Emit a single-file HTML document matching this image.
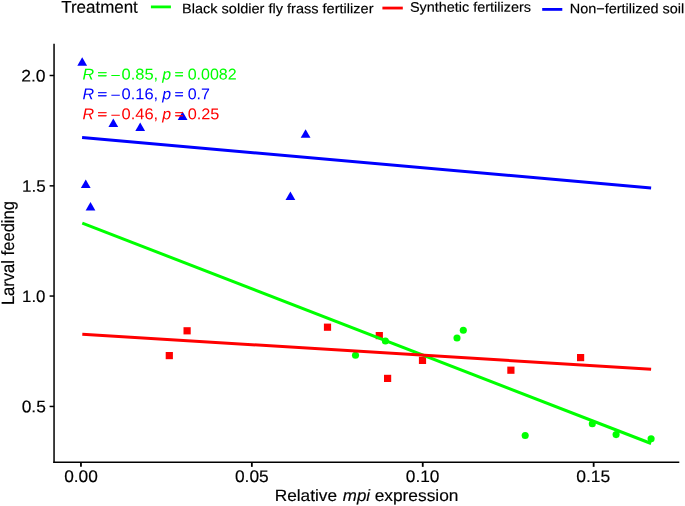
<!DOCTYPE html>
<html><head><meta charset="utf-8"><title>Larval feeding vs relative mpi expression</title>
<style>
html,body{margin:0;padding:0;background:#fff;}
svg{display:block;}
text{font-family:"Liberation Sans",sans-serif;fill:#000;stroke:#000;stroke-width:0.16px;text-rendering:geometricPrecision;}
</style></head>
<body>
<svg width="685" height="506" viewBox="0 0 685 506">
<rect width="685" height="506" fill="#fff"/>
<line x1="150.9" y1="6.9" x2="170.9" y2="6.9" stroke="#00ff00" stroke-width="2.8"/>
<line x1="382.4" y1="8.05" x2="402.8" y2="8.05" stroke="#ff0000" stroke-width="2.8"/>
<line x1="542.2" y1="9.4" x2="562.3" y2="9.4" stroke="#0000ff" stroke-width="2.8"/>
<g stroke="#000" stroke-width="1.5" fill="none">
<line x1="54.05" y1="43.8" x2="54.05" y2="463.1"/>
<line x1="53.3" y1="462.35" x2="679.3" y2="462.35"/>
<line x1="49.6" y1="75.5" x2="54.05" y2="75.5"/>
<line x1="49.6" y1="185.85" x2="54.05" y2="185.85"/>
<line x1="49.6" y1="296.05" x2="54.05" y2="296.05"/>
<line x1="49.6" y1="406.45" x2="54.05" y2="406.45"/>
<line x1="80.95" y1="462.35" x2="80.95" y2="466.85" stroke-width="1.8"/>
<line x1="251.85" y1="462.35" x2="251.85" y2="466.85" stroke-width="1.8"/>
<line x1="422.75" y1="462.35" x2="422.75" y2="466.85" stroke-width="1.8"/>
<line x1="593.65" y1="462.35" x2="593.65" y2="466.85" stroke-width="1.8"/>
</g>
<g fill="#0000ff">
<polygon points="82.20,57.30 87.09,65.78 77.31,65.78"/>
<polygon points="113.30,118.50 118.19,126.98 108.41,126.98"/>
<polygon points="140.20,122.60 145.09,131.07 135.31,131.07"/>
<polygon points="182.60,111.60 187.49,120.08 177.71,120.08"/>
<polygon points="85.75,179.50 90.64,187.97 80.86,187.97"/>
<polygon points="90.50,201.90 95.39,210.38 85.61,210.38"/>
<polygon points="305.60,129.30 310.49,137.77 300.71,137.77"/>
<polygon points="290.40,191.60 295.29,200.07 285.51,200.07"/>
</g>
<g fill="#00ff00">
<circle cx="355.5" cy="355.3" r="3.55"/>
<circle cx="385.4" cy="341" r="3.55"/>
<circle cx="457" cy="338" r="3.55"/>
<circle cx="463.3" cy="330.2" r="3.55"/>
<circle cx="525.2" cy="435.5" r="3.55"/>
<circle cx="592.3" cy="423.7" r="3.55"/>
<circle cx="616.1" cy="434.6" r="3.55"/>
<circle cx="651.1" cy="438.75" r="3.55"/>
</g>
<g fill="#ff0000">
<rect x="165.70" y="352.00" width="7.2" height="7.2"/>
<rect x="183.50" y="327.20" width="7.2" height="7.2"/>
<rect x="323.90" y="323.60" width="7.2" height="7.2"/>
<rect x="375.70" y="332.00" width="7.2" height="7.2"/>
<rect x="384.00" y="374.80" width="7.2" height="7.2"/>
<rect x="418.90" y="356.80" width="7.2" height="7.2"/>
<rect x="507.30" y="366.60" width="7.2" height="7.2"/>
<rect x="577.00" y="354.00" width="7.2" height="7.2"/>
</g>
<line x1="82.3" y1="223.1" x2="651.1" y2="443.5" stroke="#00ff00" stroke-width="3.0"/>
<line x1="82.3" y1="334.3" x2="651.1" y2="369.3" stroke="#ff0000" stroke-width="3.0"/>
<line x1="82.1" y1="137.45" x2="651.1" y2="188.0" stroke="#0000ff" stroke-width="3.0"/>
<text transform="translate(61.25,12.80) rotate(0.03) scale(0.9909,1.0)" font-size="17.1">Treatment</text>
<text transform="translate(181.95,13.20) rotate(0.03) scale(1.0541,1.0)" font-size="13.8">Black soldier fly frass fertilizer</text>
<text transform="translate(409.88,11.65) rotate(0.03) scale(1.0455,1.0)" font-size="13.8">Synthetic fertilizers</text>
<text transform="translate(569.75,13.25) rotate(0.03) scale(1.0474,1.0)" font-size="13.8">Non−fertilized soil</text>
<text transform="translate(21.21,81.40) rotate(0.03) scale(1.0514,1.0)" font-size="16.7">2.0</text>
<text transform="translate(22.05,191.65) rotate(0.03) scale(1.0233,1.0)" font-size="16.7">1.5</text>
<text transform="translate(22.06,301.90) rotate(0.03) scale(1.0093,1.0)" font-size="16.7">1.0</text>
<text transform="translate(21.68,412.15) rotate(0.03) scale(1.0395,1.0)" font-size="16.7">0.5</text>
<text transform="translate(64.18,482.05) rotate(0.03) scale(1.0349,1.0)" font-size="16.7">0.00</text>
<text transform="translate(234.98,482.05) rotate(0.03) scale(1.0390,1.0)" font-size="16.7">0.05</text>
<text transform="translate(405.78,482.05) rotate(0.03) scale(1.0349,1.0)" font-size="16.7">0.10</text>
<text transform="translate(576.28,482.05) rotate(0.03) scale(1.0486,1.0)" font-size="16.7">0.15</text>
<text transform="translate(274.68,501.05) rotate(0.03) scale(1.0527,1.0)" font-size="16.4">Relative</text>
<text transform="translate(342.87,501.05) rotate(0.03) scale(1.0280,1.0)" font-size="16.4" font-style="italic">mpi</text>
<text transform="translate(374.64,501.05) rotate(0.03) scale(1.0572,1.0)" font-size="16.4">expression</text>
<text transform="translate(13.85,305.11) rotate(-90) scale(0.9693,1.04)" font-size="17.1">Larval feeding</text>
<text transform="translate(82.48,79.40) rotate(0.03) scale(1.0313,1.0)" font-size="15.6" font-style="italic" style="fill:#00ff00;stroke:none;stroke-width:0.0px">R</text>
<text transform="translate(97.58,78.37) rotate(0.03) scale(1.0462,0.8)" font-size="15.6" style="fill:#00ff00;stroke:#00ff00;stroke-width:0.45px">=</text>
<text transform="translate(110.46,80.13) rotate(0.03) scale(1.1148,0.9)" font-size="15.6" style="fill:#00ff00;stroke:none;stroke-width:0.0px">−</text><text transform="translate(121.54,79.40) rotate(0.03) scale(1.0565,1.0)" font-size="15.6" style="fill:#00ff00;stroke:none;stroke-width:0.0px">0.85,</text>
<text transform="translate(162.18,79.40) rotate(0.03) scale(1.0203,1.0)" font-size="15.6" font-style="italic" style="fill:#00ff00;stroke:none;stroke-width:0.0px">p</text>
<text transform="translate(174.82,78.37) rotate(0.03) scale(0.9662,0.8)" font-size="15.6" style="fill:#00ff00;stroke:#00ff00;stroke-width:0.45px">=</text>
<text transform="translate(187.66,79.40) rotate(0.03) scale(1.0264,1.0)" font-size="15.6" style="fill:#00ff00;stroke:none;stroke-width:0.0px">0.0082</text>
<text transform="translate(82.48,99.30) rotate(0.03) scale(1.0313,1.0)" font-size="15.6" font-style="italic" style="fill:#0000ff;stroke:none;stroke-width:0.0px">R</text>
<text transform="translate(97.58,98.27) rotate(0.03) scale(1.0462,0.8)" font-size="15.6" style="fill:#0000ff;stroke:#0000ff;stroke-width:0.45px">=</text>
<text transform="translate(110.46,100.03) rotate(0.03) scale(1.1148,0.9)" font-size="15.6" style="fill:#0000ff;stroke:none;stroke-width:0.0px">−</text><text transform="translate(121.54,99.30) rotate(0.03) scale(1.0565,1.0)" font-size="15.6" style="fill:#0000ff;stroke:none;stroke-width:0.0px">0.16,</text>
<text transform="translate(162.18,99.30) rotate(0.03) scale(1.0203,1.0)" font-size="15.6" font-style="italic" style="fill:#0000ff;stroke:none;stroke-width:0.0px">p</text>
<text transform="translate(174.82,98.27) rotate(0.03) scale(0.9662,0.8)" font-size="15.6" style="fill:#0000ff;stroke:#0000ff;stroke-width:0.45px">=</text>
<text transform="translate(187.66,99.30) rotate(0.03) scale(1.0258,1.0)" font-size="15.6" style="fill:#0000ff;stroke:none;stroke-width:0.0px">0.7</text>
<text transform="translate(82.48,119.20) rotate(0.03) scale(1.0313,1.0)" font-size="15.6" font-style="italic" style="fill:#ff0000;stroke:none;stroke-width:0.0px">R</text>
<text transform="translate(97.58,118.17) rotate(0.03) scale(1.0462,0.8)" font-size="15.6" style="fill:#ff0000;stroke:#ff0000;stroke-width:0.45px">=</text>
<text transform="translate(110.46,119.93) rotate(0.03) scale(1.1148,0.9)" font-size="15.6" style="fill:#ff0000;stroke:none;stroke-width:0.0px">−</text><text transform="translate(121.54,119.20) rotate(0.03) scale(1.0565,1.0)" font-size="15.6" style="fill:#ff0000;stroke:none;stroke-width:0.0px">0.46,</text>
<text transform="translate(162.18,119.20) rotate(0.03) scale(1.0203,1.0)" font-size="15.6" font-style="italic" style="fill:#ff0000;stroke:none;stroke-width:0.0px">p</text>
<text transform="translate(174.82,118.17) rotate(0.03) scale(0.9662,0.8)" font-size="15.6" style="fill:#ff0000;stroke:#ff0000;stroke-width:0.45px">=</text>
<text transform="translate(187.65,119.20) rotate(0.03) scale(1.0438,1.0)" font-size="15.6" style="fill:#ff0000;stroke:none;stroke-width:0.0px">0.25</text>
</svg>
</body></html>
